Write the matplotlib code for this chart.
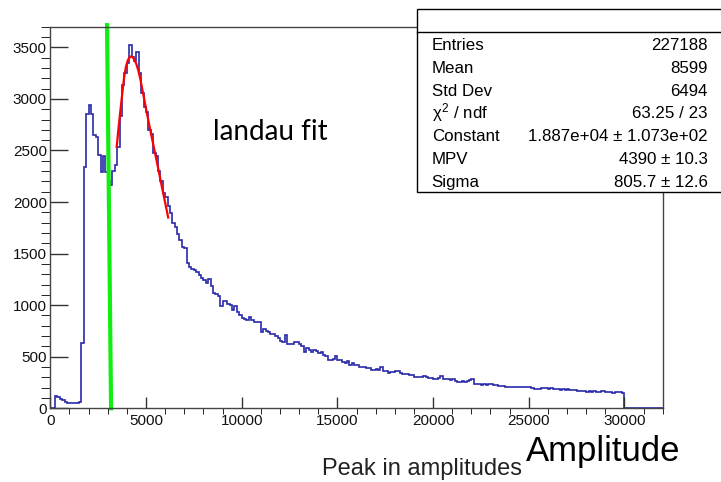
import numpy as np
import matplotlib
matplotlib.use('Agg')
import matplotlib.pyplot as plt
from matplotlib.patches import Rectangle
from matplotlib.lines import Line2D
from matplotlib.ticker import MultipleLocator

# histogram: 256 bins of 125 between 0 and 32000
x_min, x_max, n_bins = 0, 32000, 256
counts = [
    0, 0, 118, 112, 95, 78, 65, 55, 48, 47, 48, 52, 60,
    630, 2335, 2855, 2945, 2850, 2650, 2630, 2455, 2295, 2450, 2295, 2205, 2165,
    2300, 2360, 2530, 2830, 3130, 3250, 3350, 3525, 3410, 3370, 3455, 3250, 3060,
    2920, 2870, 2700, 2660, 2480, 2450, 2300, 2200, 2090, 2050, 1960, 1890, 1800,
    1760, 1690, 1630, 1560, 1550, 1405, 1370, 1355, 1340, 1325, 1290, 1265,
    1240, 1215, 1250, 1190, 1120, 1110, 1085, 990, 1045, 1040, 1015, 1005, 955, 990, 930, 905,
    875, 870, 860, 885, 855, 840, 835, 840,
    735, 765, 745, 740, 720, 718, 705, 680, 650, 645, 711, 625, 623, 620, 646, 640, 623,
    600, 550, 580, 570, 550, 565, 560, 540, 550, 520, 505, 470, 470, 475, 505, 470, 465,
    445, 440, 455, 420, 440, 422, 418, 405, 402, 400, 390, 387, 372, 370, 378, 375, 400,
    366, 365, 340, 352, 356, 365, 362, 346, 335, 332, 333, 325, 320, 308, 306,
    306, 305, 310, 304, 298, 292, 288, 285, 290, 312, 282, 280, 283, 279, 280,
    268, 258, 256, 260, 257, 262, 270, 280, 238, 232, 235, 230, 234, 229, 231, 233, 228, 226, 220, 218,
    214, 210, 207, 206, 210, 205, 208, 204, 207, 203, 206, 202, 195, 188, 186, 190,
    194, 192, 196, 190, 193, 185, 183, 186, 180, 184, 181, 186, 180, 178,
    175, 172, 168, 165, 163, 162, 166, 160, 163, 160, 162, 166, 163, 158, 154, 157, 152, 155, 160, 156, 150,
    0, 0, 0, 0, 0, 0, 0, 0, 0, 0, 0, 0, 0, 0, 0, 0,
]

# landau fit curve
fit_x = [3470, 3550, 3650, 3750, 3850, 3950, 4050, 4150, 4220, 4300, 4400, 4500,
         4600, 4700, 4800, 4900, 5000, 5200, 5400, 5600, 5800, 6000, 6160]
fit_y = [2535, 2690, 2865, 3035, 3200, 3310, 3375, 3405, 3412, 3405, 3380, 3335,
         3275, 3195, 3100, 3005, 2905, 2720, 2540, 2360, 2175, 1995, 1850]

# hand drawn green cut line
cut_x = [2965, 3175]
cut_y = [3715, 0]

y_max = 3700
x_ticks = [0, 5000, 10000, 15000, 20000, 25000, 30000]
y_ticks = [0, 500, 1000, 1500, 2000, 2500, 3000, 3500]

stats_labels = ['Entries', 'Mean', 'Std Dev', r'$\chi^{2}$ / ndf', 'Constant', 'MPV', 'Sigma']
stats_values = ['227188', '8599', '6494', '63.25 / 23',
                '1.887e+04 \u00b1 1.073e+02', '4390 \u00b1 10.3', '805.7 \u00b1 12.6']

plt.rcParams['font.family'] = ['Liberation Sans', 'DejaVu Sans']
plt.rcParams['mathtext.fontset'] = 'custom'
plt.rcParams['mathtext.rm'] = 'Liberation Sans'
plt.rcParams['mathtext.it'] = 'Liberation Sans'

W, H = 721, 482
fig = plt.figure(figsize=(W / 100, H / 100), dpi=100)
ax = fig.add_axes([50.3 / W, 1 - 408.3 / H, (662.7 - 50.3) / W, (408.3 - 26.7) / H])

edges = np.linspace(x_min, x_max, n_bins + 1)
ax.stairs(counts, edges, color='#2a2aaa', lw=1.2)
ax.plot(fit_x, fit_y, color='#ff0000', lw=1.6)
ax.plot(cut_x, cut_y, color='#11ee11', lw=3, clip_on=False)

ax.set_xlim(x_min, x_max)
ax.set_ylim(0, y_max)
ax.set_xticks(x_ticks)
ax.set_yticks(y_ticks)
ax.xaxis.set_minor_locator(MultipleLocator(1000))
ax.yaxis.set_minor_locator(MultipleLocator(100))
ax.tick_params(axis='both', direction='in', colors='#333333', labelcolor='#111111',
               labelsize=11, width=1)
ax.tick_params(axis='x', which='major', length=8.2, pad=4)
ax.tick_params(axis='x', which='minor', length=4.1)
ax.tick_params(axis='y', which='major', length=13.2, pad=2.5)
ax.tick_params(axis='y', which='minor', length=6.6)
for s in ax.spines.values():
    s.set_color('#444444')
    s.set_linewidth(1)

# stats box, cut by the right edge of the canvas
fig.add_artist(Rectangle((416.7 / W, 1 - 192.3 / H), (740 - 416.7) / W, (192.3 - 9.3) / H,
                         transform=fig.transFigure, facecolor='white',
                         edgecolor='black', lw=1))
fig.add_artist(Line2D([416.7 / W, 1], [1 - 31.7 / H, 1 - 31.7 / H],
                      transform=fig.transFigure, color='black', lw=1))
for i, (lab, val) in enumerate(zip(stats_labels, stats_values)):
    yb = 1 - (50 + 22.8 * i) / H
    fig.text(431.7 / W, yb, lab, fontsize=12.2, va='baseline', ha='left')
    fig.text(707.7 / W, yb, val, fontsize=12.2, va='baseline', ha='right')

fig.text(213 / W, 1 - 140 / H, 'landau fit', family=['Lato', 'DejaVu Sans'],
         fontsize=20, va='baseline')
fig.text(680 / W, 1 - 461 / H, 'Amplitude', fontsize=25, ha='right', va='baseline')
fig.text(422 / W, 1 - 475 / H, 'Peak in amplitudes', fontsize=17, ha='center',
         va='baseline', color='#222222')

fig.savefig('out.png', dpi=100)
